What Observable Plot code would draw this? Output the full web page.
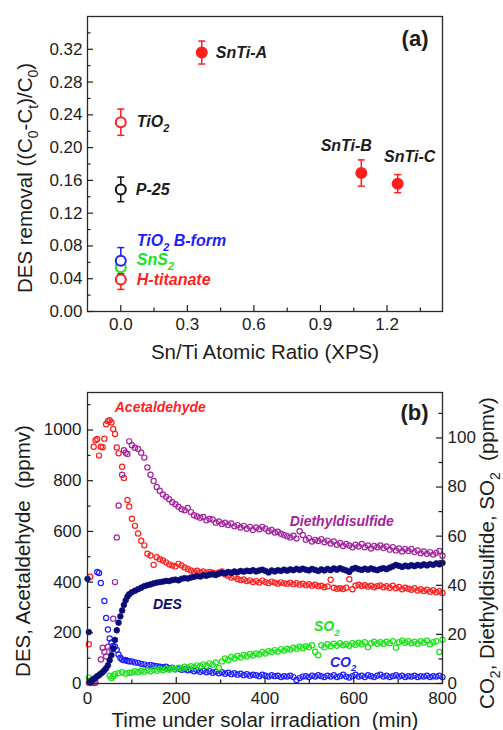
<!DOCTYPE html>
<html><head><meta charset="utf-8">
<script src="https://cdn.jsdelivr.net/npm/d3@7"></script>
<script src="https://cdn.jsdelivr.net/npm/@observablehq/plot@0.6"></script>
<style>
html,body{margin:0;padding:0;background:#fff;}
#chart{position:relative;width:503px;height:730px;overflow:hidden;background:#fff;}
#chart svg{display:block;}
</style></head><body><div id="chart"></div>
<script>
// ---------- Panel (a) data ----------
const samples = ["SnTi-A", "TiO_2", "P-25", "SnTi-B", "SnTi-C", "SnS_2", "H-titanate", "TiO_2 B-form"];
const snTiRatio = [0.365, 0, 0, 1.084, 1.248, 0, 0, 0];
const desRemoval = [0.316, 0.231, 0.149, 0.169, 0.156, 0.054, 0.039, 0.062];
const desRemovalErr = [0.014, 0.016, 0.015, 0.016, 0.011, 0.010, 0.012, 0.016];
const xTicksA = [0, 0.3, 0.6, 0.9, 1.2];
const xMinorA = [0.15, 0.45, 0.75, 1.05, 1.35];
const yTicksA = [0, 0.04, 0.08, 0.12, 0.16, 0.2, 0.24, 0.28, 0.32];
const yMinorA = [0.02, 0.06, 0.1, 0.14, 0.18, 0.22, 0.26, 0.3, 0.34];

// ---------- Panel (b) data ----------
const minutes = [0,3,6,10,14,18,22,26,30,34,38,42,46,50,54,58,62,66,70,74,78,82,86,90,94,
100,107,114,121,128,135,142,149,156,163,
170,177,184,191,198,205,212,219,226,233,
240,247,254,261,268,275,282,289,296,303,
310,317,324,331,338,345,352,359,366,373,
380,387,394,401,408,415,422,429,436,443,
450,457,464,471,478,485,492,499,506,513,
520,527,534,541,548,555,562,569,576,583,
590,597,604,611,618,625,632,639,646,653,
660,667,674,681,688,695,702,709,716,723,
730,737,744,751,758,765,772,779,786,793,
800];
// left axis (ppmv)
const des = [413,203,5,13,18,22,29,33,39,44,52,60,72,92,112,138,172,210,240,265,288,310,328,343,352,
360,366,372,378,384,388,391,395,398,400,
402,405,404,408,410,407,413,416,414,418,
421,424,422,427,425,429,431,428,433,437,
435,440,437,442,439,444,441,445,443,447,
442,446,449,444,438,446,442,447,444,449,
445,450,447,452,448,453,449,446,452,448,
444,450,446,452,447,454,449,455,450,446,
440,452,456,451,448,453,449,454,450,447,
452,455,451,457,462,468,464,460,465,462,
467,463,468,465,470,466,471,468,474,470,
476];
const acetaldehyde = [null,155,421,null,934,960,965,899,934,932,966,1023,1035,1039,1030,1004,984,931,908,null,855,811,null,724,698,
650,622,592,563,545,512,505,468,498,490,
485,478,470,466,462,472,466,458,452,446,
440,445,438,442,436,440,437,433,438,442,
430,425,418,420,412,408,410,404,407,400,
404,398,406,400,396,402,398,394,399,395,
394,398,392,396,390,394,388,392,386,390,
384,386,380,383,409,378,374,376,373,378,
411,372,386,390,385,388,382,386,380,384,
387,380,384,378,386,376,381,372,378,374,
370,376,367,372,365,370,362,368,360,364,
357];
// right axis (ppmv)
const diethyldisulfide = [null,0.3,0.2,0.4,0.2,0.3,null,null,9.8,14.6,12.8,11,15,null,14,26.4,41.3,59.5,72.5,null,85,95,94,93.5,98.6,
97,96,95.5,94,92,88,85,82.5,80,78.5,
77,76,75,73.8,73,72,71,70.5,71.5,69.8,
68.5,68,67.5,67.8,66.5,67,66.8,65.5,66,65,
65.5,64.5,65.2,64,64.5,63.5,64.2,63,63.8,62.5,
63.5,62.8,63.8,63,62,62.5,61.5,61.8,61,60.5,
60,59.5,60.2,59,62,60.5,58.5,59.2,57.8,58.5,
58,58.8,57.5,58.2,57,57.8,56.5,57.2,56,56.8,
56.2,55.5,56.5,55.8,56.8,55.5,56.2,55,56,55.5,
56.2,55.2,55.8,54.5,55.5,54.2,55,53.8,54.8,54,
54.8,53.5,54.2,53,53.8,52.8,53.5,52.5,53.2,54,
52];
const so2 = [null,2.4,1.0,null,null,null,null,null,null,null,null,null,null,3.2,2.2,3.0,3.8,null,4.2,null,4.6,null,4.0,null,4.4,
4.5,5.0,4.6,5.2,4.8,5.4,5.0,5.6,5.2,5.8,
5.4,6.0,5.6,6.2,5.8,6.4,6.0,6.8,6.4,7.0,
6.6,7.4,7.0,7.8,7.2,8.2,7.6,8.6,6.3,9.0,
10.2,9.6,10.8,10.2,11.2,10.6,11.6,11.0,12.0,11.4,
12.2,11.8,12.8,12.2,13.2,12.8,13.6,13.0,14.0,13.4,
14.2,13.8,14.6,14.2,15.0,14.4,15.2,14.8,15.6,12.9,
11.5,15.6,14.8,16.0,15.2,16.2,15.4,16.4,15.6,16.0,
15.4,16.4,15.8,16.6,16.0,16.8,14.8,16.4,17.0,16.2,
16.8,16.2,17.0,16.4,17.2,14.6,16.8,17.4,16.6,17.2,
16.4,17.0,16.2,17.2,16.6,17.4,16.0,16.8,17.2,12.8,
17.8];
const co2 = [null,null,null,null,null,null,45.4,45,40.9,null,33.6,26.7,22,18.3,16.7,15.3,15,13.7,11.8,10.5,9.8,9.5,9.6,9.2,9.0,
9.0,8.6,8.4,8.0,7.8,7.4,7.6,7.2,7.0,6.8,
6.6,6.8,6.2,6.4,5.8,6.0,5.6,5.8,5.4,5.6,
5.0,5.4,4.8,5.2,4.6,5.0,4.4,4.8,4.2,4.6,
4.0,4.4,3.8,4.2,3.6,4.0,3.4,3.8,3.2,3.6,
3.4,3.0,3.6,3.2,2.8,3.4,3.0,3.2,2.6,3.0,
2.8,3.2,2.6,1.4,2.2,2.8,3.0,2.6,3.2,2.8,
3.4,3.0,2.6,3.2,2.8,3.4,2.6,3.0,3.6,2.8,
2.4,3.0,3.6,2.8,3.2,2.6,3.4,3.0,2.6,3.2,
3.6,2.8,3.2,2.6,3.0,3.4,2.8,3.2,2.6,3.0,
2.8,3.2,2.6,3.0,2.8,3.2,2.6,3.0,2.8,3.2,
2.6];
const xTicksB = [0, 200, 400, 600, 800];
const xMinorB = [100, 300, 500, 700];
const yLeftTicksB = [0, 200, 400, 600, 800, 1000];
const yLeftMinorB = [100, 300, 500, 700, 900, 1100];
const yRightTicksB = [0, 20, 40, 60, 80, 100];
const yRightMinorB = [10, 30, 50, 70, 90, 110];
const leftTopB = 1148, rightTopB = 118.5;

// ---------- styles / layout ----------
const FONT = "'Liberation Sans', Arial, Helvetica, sans-serif";
const INK = "#1c1c1c";
const RED = "#ff1e1e", PURPLE = "#a3239f", NAVY = "#0b0b78", GREEN = "#18e418", BLUE = "#1e1eff", BLACK = "#111";
const W = 503, H = 365, ML = 87, MR = 61;
const frameW = W - ML - MR;

const sampleStyle = {
  "SnTi-A":       {color: RED,   filled: true,  label: INK,   dx: 14,  dy: 0,   anchor: "start"},
  "TiO_2":        {color: RED,   filled: false, label: INK,   dx: 16,  dy: 0,   anchor: "start"},
  "P-25":         {color: BLACK, filled: false, label: INK,   dx: 15,  dy: 0,   anchor: "start"},
  "SnTi-B":       {color: RED,   filled: true,  label: INK,   dx: -15, dy: -27, anchor: "middle"},
  "SnTi-C":       {color: RED,   filled: true,  label: INK,   dx: 12,  dy: -27, anchor: "middle"},
  "SnS_2":        {color: GREEN, filled: false, label: GREEN, dx: 16,  dy: -7,  anchor: "start"},
  "H-titanate":   {color: RED,   filled: false, label: RED,   dx: 16,  dy: 0,   anchor: "start"},
  "TiO_2 B-form": {color: BLUE,  filled: false, label: BLUE,  dx: 16,  dy: -20, anchor: "start"}
};

const capSymbol = {draw(ctx, size) { const r = Math.sqrt(size / Math.PI); ctx.moveTo(-r, 0); ctx.lineTo(r, 0); }};

function subscriptify(svg) {
  svg.querySelectorAll("text").forEach(el => {
    const s = el.textContent;
    if (!s.includes("_")) return;
    const fs = parseFloat(getComputedStyle(el).fontSize) || 16;
    const parts = s.split(/_(.)/);
    while (el.firstChild) el.removeChild(el.firstChild);
    let shifted = false;
    parts.forEach((p, i) => {
      if (!p) return;
      const ts = document.createElementNS("http://www.w3.org/2000/svg", "tspan");
      ts.textContent = p;
      if (i % 2 === 1) {
        ts.setAttribute("dy", (0.3 * fs).toFixed(2));
        ts.setAttribute("font-size", (0.68 * fs).toFixed(2));
        shifted = true;
      } else if (shifted) {
        ts.setAttribute("dy", (-0.3 * fs).toFixed(2));
        shifted = false;
      }
      el.appendChild(ts);
    });
  });
}

const chart = document.getElementById("chart");

// ---------- Panel (a) ----------
const rowsA = samples.map((s, i) => ({sample: s, x: snTiRatio[i], y: desRemoval[i], e: desRemovalErr[i]}));
const colA = d => sampleStyle[d.sample].color;
const frameHA = H - 16 - 54;

const plotA = Plot.plot({
  width: W, height: H, marginLeft: ML, marginRight: MR, marginTop: 16, marginBottom: 54,
  style: {fontFamily: FONT, fontSize: "17px", color: INK, background: "white", overflow: "visible"},
  x: {domain: [-0.15, 1.45]},
  y: {domain: [0, 0.36]},
  color: {type: "identity"},
  marks: [
    Plot.frame({stroke: "#2a2a2a", strokeWidth: 1.3}),
    Plot.tickX(xTicksA, {x: d => d, insetTop: frameHA - 6, stroke: INK, strokeWidth: 1.2}),
    Plot.tickX(xMinorA, {x: d => d, insetTop: frameHA - 3.5, stroke: INK, strokeWidth: 1.2}),
    Plot.tickY(yTicksA, {y: d => d, insetRight: frameW - 6, stroke: INK, strokeWidth: 1.2}),
    Plot.tickY(yMinorA, {y: d => d, insetRight: frameW - 3.5, stroke: INK, strokeWidth: 1.2}),
    Plot.axisX(xTicksA, {anchor: "bottom", tickSize: 0, tickPadding: 6, tickFormat: d3.format(".1f"), fontSize: 17, label: null, fill: INK}),
    Plot.axisY(yTicksA, {anchor: "left", tickSize: 0, tickPadding: 5, tickFormat: d3.format(".2f"), fontSize: 17, label: null, fill: INK}),
    Plot.ruleX(rowsA, {x: "x", y1: d => d.y - d.e, y2: d => d.y + d.e, stroke: colA, strokeWidth: 1.5}),
    Plot.dot(rowsA, {x: "x", y: d => d.y + d.e, symbol: capSymbol, r: 3.5, stroke: colA, fill: "none", strokeWidth: 1.5}),
    Plot.dot(rowsA, {x: "x", y: d => d.y - d.e, symbol: capSymbol, r: 3.5, stroke: colA, fill: "none", strokeWidth: 1.5}),
    Plot.dot(rowsA, {x: "x", y: "y", r: 5, stroke: colA, fill: d => sampleStyle[d.sample].filled ? sampleStyle[d.sample].color : "white", strokeWidth: 2}),
    ...rowsA.map(d => {
      const st = sampleStyle[d.sample];
      return Plot.text([d], {x: "x", y: "y", text: "sample", dx: st.dx, dy: st.dy, textAnchor: st.anchor,
        fill: st.label, fontSize: 16, fontWeight: "bold", fontStyle: "italic"});
    }),
    Plot.text(["(a)"], {frameAnchor: "top-right", dx: -14, dy: 22, textAnchor: "end", lineAnchor: "middle", fontSize: 22, fontWeight: "bold", fill: INK}),
    Plot.text(["Sn/Ti Atomic Ratio (XPS)"], {frameAnchor: "bottom", dy: 41, textAnchor: "middle", lineAnchor: "middle", fontSize: 20.5, fill: INK}),
    Plot.text(["DES removal ((C_0-C_t)/C_0)"], {frameAnchor: "left", rotate: -90, dx: -62, dy: 14, textAnchor: "middle", lineAnchor: "middle", fontSize: 20.5, fill: INK})
  ]
});
chart.appendChild(plotA);
subscriptify(plotA);

// ---------- Panel (b) ----------
const k = leftTopB / rightTopB; // left units per right unit
function rowsOf(values, right) {
  return values.map((v, i) => ({t: minutes[i], v, y: v == null ? null : (right ? v * k : v)}))
    .filter(d => d.t != null && d.v != null);
}
const rowsDES = rowsOf(des, false);
const rowsAcet = rowsOf(acetaldehyde, false);
const rowsDEDS = rowsOf(diethyldisulfide, true);
const rowsSO2 = rowsOf(so2, true);
const rowsCO2 = rowsOf(co2, true);

const seriesLabels = [
  {text: "Acetaldehyde", t: 164, y: 1089, color: RED},
  {text: "Diethyldisulfide", t: 573, y: 639, color: PURPLE},
  {text: "DES", t: 180, y: 311, color: NAVY},
  {text: "SO_2", t: 539, y: 223, color: GREEN},
  {text: "CO_2", t: 576, y: 83, color: BLUE}
];
const frameHB = H - 27 - 47;
const openDot = (rows, color) => Plot.dot(rows, {x: "t", y: "y", r: 2.6, stroke: color, fill: "none", strokeWidth: 1.2});

const plotB = Plot.plot({
  width: W, height: H, marginLeft: ML, marginRight: MR, marginTop: 27, marginBottom: 47,
  style: {fontFamily: FONT, fontSize: "17px", color: INK, background: "white", overflow: "visible"},
  x: {domain: [0, 800]},
  y: {domain: [0, leftTopB]},
  color: {type: "identity"},
  marks: [
    openDot(rowsDEDS, PURPLE),
    openDot(rowsAcet, RED),
    openDot(rowsCO2, BLUE),
    openDot(rowsSO2, GREEN),
    Plot.dot(rowsDES, {x: "t", y: "y", r: 2.9, fill: NAVY, stroke: NAVY, strokeWidth: 0.6}),
    Plot.frame({stroke: "#2a2a2a", strokeWidth: 1.3}),
    Plot.tickX(xTicksB, {x: d => d, insetTop: frameHB - 6, stroke: INK, strokeWidth: 1.2}),
    Plot.tickX(xMinorB, {x: d => d, insetTop: frameHB - 3.5, stroke: INK, strokeWidth: 1.2}),
    Plot.tickY(yLeftTicksB, {y: d => d, insetRight: frameW - 6, stroke: INK, strokeWidth: 1.2}),
    Plot.tickY(yLeftMinorB, {y: d => d, insetRight: frameW - 3.5, stroke: INK, strokeWidth: 1.2}),
    Plot.tickY(yRightTicksB.map(r => r * k), {y: d => d, insetLeft: frameW - 6, stroke: INK, strokeWidth: 1.2}),
    Plot.tickY(yRightMinorB.map(r => r * k), {y: d => d, insetLeft: frameW - 3.5, stroke: INK, strokeWidth: 1.2}),
    Plot.axisX(xTicksB, {anchor: "bottom", tickSize: 0, tickPadding: 8, tickFormat: d3.format("d"), fontSize: 17, label: null, fill: INK}),
    Plot.axisY(yLeftTicksB, {anchor: "left", tickSize: 0, tickPadding: 6, tickFormat: d3.format("d"), fontSize: 17, label: null, fill: INK}),
    Plot.axisY(yRightTicksB.map(r => r * k), {anchor: "right", tickSize: 0, tickPadding: 5, tickFormat: d => String(Math.round(d / k)), fontSize: 17, label: null, fill: INK}),
    ...seriesLabels.map(s => Plot.text([s], {x: "t", y: "y", text: "text", textAnchor: "middle", fill: s.color, fontSize: 14, fontWeight: "bold", fontStyle: "italic"})),
    Plot.text(["(b)"], {frameAnchor: "top-right", dx: -14, dy: 20, textAnchor: "end", lineAnchor: "middle", fontSize: 22, fontWeight: "bold", fill: INK}),
    Plot.text(["Time under solar irradiation\u00a0 (min)"], {frameAnchor: "bottom", dy: 37, textAnchor: "middle", lineAnchor: "middle", fontSize: 20.5, fill: INK}),
    Plot.text(["DES, Acetaldehyde\u00a0 (ppmv)"], {frameAnchor: "left", rotate: -90, dx: -64, dy: 13, textAnchor: "middle", lineAnchor: "middle", fontSize: 20.5, fill: INK}),
    Plot.text(["CO_2, Diethyldisulfide, SO_2\u00a0 (ppmv)"], {frameAnchor: "right", rotate: -90, dx: 45, dy: 15, textAnchor: "middle", lineAnchor: "middle", fontSize: 20.5, fill: INK})
  ]
});
chart.appendChild(plotB);
subscriptify(plotB);
</script></body></html>
